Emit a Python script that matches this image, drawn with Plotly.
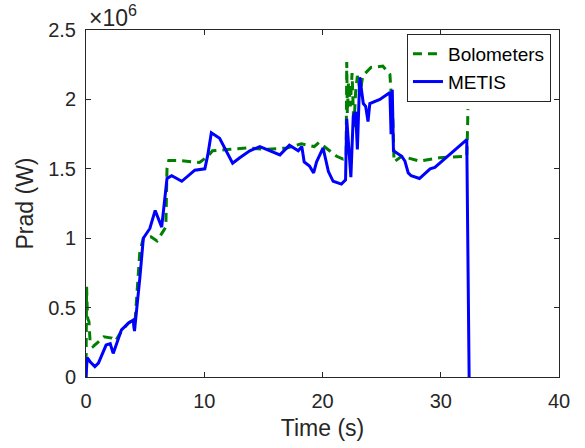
import plotly.graph_objects as go

# Time (s) and radiated power (units of 1e6 W)
metis_t = [0, 0.1, 0.35, 0.75, 1.05, 1.7, 2.05, 2.3, 3.0, 3.6, 4.0, 4.1, 4.55, 4.85, 5.4, 5.85,
           6.4, 6.85, 7.25, 8.1, 9.2, 10.05, 10.3, 10.6, 11.3, 12.4, 13.0, 13.85, 14.7, 16.4,
           17.2, 17.95, 18.25, 18.45, 18.9, 19.25, 19.5, 20.05, 20.5, 20.9, 21.6, 21.95, 22.05,
           22.4, 22.6, 22.8, 22.95, 23.15, 23.45, 23.65, 23.85, 24.0, 24.85, 25.7, 25.8, 25.9,
           26.0, 26.7, 26.97, 27.25, 27.5, 28.2, 29.1, 29.5, 32.2, 32.4]
metis_p = [0.0, 0.14, 0.11, 0.075, 0.10, 0.23, 0.24, 0.17, 0.34, 0.39, 0.41, 0.33, 0.71, 1.0,
           1.07, 1.20, 1.08, 1.43, 1.45, 1.41, 1.49, 1.50, 1.60, 1.76, 1.72, 1.54, 1.58, 1.63,
           1.66, 1.60, 1.67, 1.63, 1.66, 1.55, 1.52, 1.47, 1.55, 1.65, 1.48, 1.41, 1.39, 1.42,
           1.86, 1.44, 1.88, 1.91, 1.64, 2.16, 1.97, 1.95, 1.84, 1.97, 2.0, 2.05, 1.75, 2.07,
           1.63, 1.59, 1.556, 1.47, 1.45, 1.43, 1.50, 1.51, 1.71, 0.0]

bolo_t = [0, 0.05, 0.1, 0.15, 0.25, 0.35, 0.6, 1.0, 1.5, 2.2, 2.5, 3.0, 3.6, 4.0, 4.1, 4.55,
          4.85, 5.5, 6.0, 6.6, 6.75, 6.85, 7.0, 7.8, 9.2, 9.6, 10.3, 10.7, 12.2, 13.7, 15.3,
          16.5, 17.0, 18.2, 19.3, 19.7, 20.6, 21.2, 21.75, 22.0, 22.05, 22.1, 22.2, 22.35,
          22.5, 22.65, 22.8, 22.95, 23.2, 23.4, 24.1, 25.1, 25.7, 25.85, 25.95, 26.05, 26.7,
          28.2, 29.9, 32.0, 32.2, 32.25, 32.3]
bolo_p = [0.0, 0.65, 0.5, 0.42, 0.4, 0.25, 0.22, 0.25, 0.29, 0.28, 0.26, 0.33, 0.39, 0.41,
          0.34, 0.9, 1.0, 1.01, 0.98, 1.06, 1.08, 1.5, 1.56, 1.56, 1.55, 1.545, 1.59, 1.63,
          1.64, 1.65, 1.64, 1.65, 1.65, 1.68, 1.66, 1.69, 1.63, 1.59, 1.57, 1.58, 2.27, 1.9,
          2.12, 1.95, 2.19, 1.80, 2.05, 2.17, 2.05, 2.17, 2.23, 2.24, 2.18, 2.02, 1.85, 1.55,
          1.59, 1.556, 1.58, 1.59, 1.59, 1.73, 1.93]

x_ticks = [0, 10, 20, 30, 40]
y_ticks = [0, 0.5, 1, 1.5, 2, 2.5]
y_tick_text = ["0", "0.5", "1", "1.5", "2", "2.5"]

FONT = "Liberation Sans, Arial, sans-serif"
AX = "#262626"

fig = go.Figure()
fig.add_trace(go.Scatter(x=bolo_t, y=bolo_p, mode="lines", name="Bolometers",
                         line=dict(color="rgb(0,128,0)", width=3, dash="9px,6px")))
fig.add_trace(go.Scatter(x=metis_t, y=metis_p, mode="lines", name="METIS",
                         line=dict(color="rgb(0,0,255)", width=3)))

axis_common = dict(showline=True, linecolor=AX, linewidth=1, mirror="ticks",
                   ticks="inside", ticklen=5, tickcolor=AX, tickwidth=1,
                   showgrid=False, zeroline=False,
                   tickfont=dict(family=FONT, size=20, color=AX))

fig.update_xaxes(range=[0, 40], tickvals=x_ticks, ticklabelstandoff=6, **axis_common,
                 title=dict(text="Time (s)", font=dict(family=FONT, size=23, color=AX), standoff=8))
fig.update_yaxes(range=[0, 2.5], tickvals=y_ticks, ticktext=y_tick_text, ticklabelstandoff=5,
                 **axis_common,
                 title=dict(text="Prad (W)", font=dict(family=FONT, size=23, color=AX), standoff=8))

fig.add_annotation(x=0, y=1, xref="paper", yref="paper", xanchor="left", yanchor="bottom",
                   text="×10<sup>6</sup>", showarrow=False, xshift=1, yshift=-3,
                   font=dict(family=FONT, size=23, color=AX))

fig.update_layout(
    width=585, height=448,
    margin=dict(l=86, r=26, t=30, b=69),
    paper_bgcolor="white", plot_bgcolor="white",
    showlegend=True,
    legend=dict(x=0.983, y=0.9885, xanchor="right", yanchor="top",
                bgcolor="white", bordercolor=AX, borderwidth=1,
                font=dict(family=FONT, size=19, color="black"),
                tracegroupgap=0, itemwidth=30),
)

fig.write_html("out.html")
